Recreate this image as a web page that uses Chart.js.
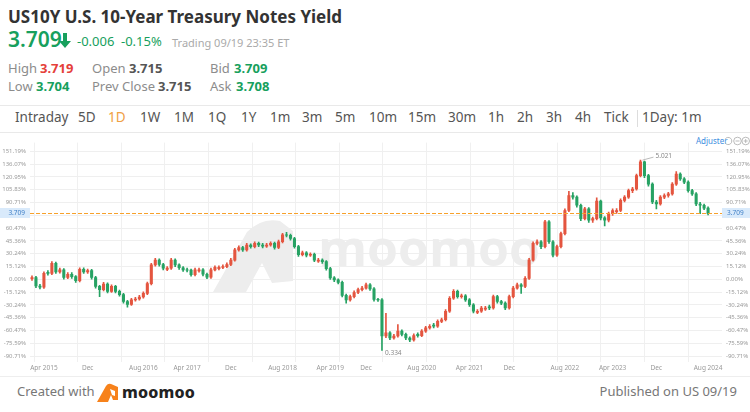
<!DOCTYPE html>
<html>
<head>
<meta charset="utf-8">
<script src="https://cdn.jsdelivr.net/npm/chart.js@4.4.1/dist/chart.umd.min.js"></script>
<style>
  body { margin: 0; width: 750px; height: 412px; background: #fff; position: relative; overflow: hidden; font-family: "Noto Sans", sans-serif; }
  .a { position: absolute; white-space: nowrap; line-height: 1; }
  .lbl { color: #8c8c8c; font-size: 13px; }
  .val { font-weight: 700; font-size: 13px; }
  .tab { color: #555; font-size: 13.5px; }
  .hr { position: absolute; left: 0; width: 750px; height: 1px; background: #e9e9e9; }
  #chartBox { position: absolute; left: 0; top: 135px; }
</style>
</head>
<body>
<div class="a" style="left:8px;top:8px;font-size:17px;font-weight:700;color:#333;">US10Y U.S. 10-Year Treasury Notes Yield</div>
<div class="a" style="left:8px;top:29px;font-size:21px;font-weight:600;color:#17a05d;">3.709</div>
<svg class="a" style="left:59px;top:33px;" width="12" height="15" viewBox="0 0 12 15"><path d="M4 0 H8 V8 H12 L6 15 L0 8 H4 Z" fill="#17a05d"/></svg>
<div class="a" style="left:77px;top:35px;font-size:13px;color:#17a05d;">-0.006</div>
<div class="a" style="left:121px;top:35px;font-size:13px;color:#17a05d;">-0.15%</div>
<div class="a" style="left:172px;top:37px;font-size:11px;color:#aaa;">Trading 09/19 23:35 ET</div>

<div class="a lbl" style="left:8px;top:62px;">High</div>
<div class="a val" style="left:40px;top:62px;color:#e5403a;">3.719</div>
<div class="a lbl" style="left:92px;top:62px;">Open</div>
<div class="a val" style="left:129px;top:62px;color:#555;">3.715</div>
<div class="a lbl" style="left:210px;top:62px;">Bid</div>
<div class="a val" style="left:234px;top:62px;color:#17a05d;">3.709</div>
<div class="a lbl" style="left:8px;top:80px;">Low</div>
<div class="a val" style="left:36px;top:80px;color:#17a05d;">3.704</div>
<div class="a lbl" style="left:92px;top:80px;">Prev Close</div>
<div class="a val" style="left:158px;top:80px;color:#555;">3.715</div>
<div class="a lbl" style="left:210px;top:80px;">Ask</div>
<div class="a val" style="left:236px;top:80px;color:#17a05d;">3.708</div>

<div class="hr" style="top:105px;"></div>
<div id="tabs"></div>
<div class="a" style="left:637px;top:110px;width:1px;height:17px;background:#ddd;"></div>
<div class="hr" style="top:132px;"></div>

<div class="a" style="left:696px;top:137px;font-size:8px;color:#3d8de0;">Adjuster</div>
<svg class="a" style="left:723px;top:136px;" width="27" height="10" viewBox="0 0 27 10">
  <path d="M2.2 3 A3.6 3.6 0 1 1 2.2 7" fill="none" stroke="#aaa" stroke-width="0.8"/>
  <circle cx="14.5" cy="5" r="3.8" fill="none" stroke="#aaa" stroke-width="0.8"/>
  <line x1="12.5" y1="5" x2="16.5" y2="5" stroke="#aaa" stroke-width="0.8"/>
  <circle cx="22.7" cy="5" r="3.8" fill="none" stroke="#aaa" stroke-width="0.8"/>
  <line x1="20.7" y1="5" x2="24.7" y2="5" stroke="#aaa" stroke-width="0.8"/>
  <line x1="22.7" y1="3" x2="22.7" y2="7" stroke="#aaa" stroke-width="0.8"/>
</svg>

<div id="chartBox"><canvas id="kline" width="750" height="240"></canvas></div>

<div class="hr" style="top:376px;background:#eee;"></div>
<div class="a" style="left:17px;top:385px;font-size:13px;color:#777;">Created with</div>
<svg class="a" style="left:97px;top:383px;" width="22" height="19" viewBox="0 0 22 19">
  <path d="M0 19 L9 3 Q11 0 14 1 L21 4 L21 17 L16 17 L14 12 L11 19 Z" fill="#f7821b"/>
  <path d="M13 6 L18 8 L18 13 L15 12 Z" fill="#fff"/>
</svg>
<div class="a" style="left:122px;top:384px;font-size:16px;font-weight:800;color:#222;letter-spacing:0.2px;">moomoo</div>
<div class="a" style="right:13px;top:385px;font-size:13px;color:#777;">Published on US 09/19</div>

<script>
// tab row
const tabNames = ["Intraday", "5D", "1D", "1W", "1M", "1Q", "1Y", "1m", "3m", "5m", "10m", "15m", "30m", "1h", "2h", "3h", "4h", "Tick", "1Day: 1m"];
const tabLeft = [15, 78, 108, 140, 174, 208, 241, 270, 302, 335, 369, 408, 448, 488, 517, 546, 575, 604, 642];
const tabBox = document.getElementById("tabs");
tabNames.forEach((t, i) => {
  const d = document.createElement("div");
  d.className = "a tab";
  d.style.left = tabLeft[i] + "px";
  d.style.top = "111px";
  if (t === "1D") d.style.color = "#f0a044";
  d.textContent = t;
  tabBox.appendChild(d);
});

// ---- data (yield, %) ----
const baseYield = 2.086; // yield that maps to 0.00%
const lastPrice = 3.709;
const opens = [
  2.10,2.13,1.92,1.89,2.26,2.23,2.48,2.27,2.32,2.13,
  2.21,2.15,2.05,2.33,2.27,2.30,2.13,1.91,1.83,1.97,
  1.79,1.91,1.79,1.71,1.54,1.47,1.58,1.60,1.65,1.74,
  1.98,2.44,2.56,2.45,2.33,2.36,2.56,2.44,2.37,2.32,
  2.31,2.20,2.29,2.32,2.21,2.14,2.32,2.35,2.38,2.40,
  2.45,2.56,2.81,2.87,2.81,2.93,2.89,2.97,2.93,2.90,
  2.93,2.97,2.87,3.01,3.18,3.17,3.09,2.89,2.69,2.74,
  2.68,2.70,2.53,2.56,2.52,2.35,2.12,2.07,2.01,1.69,
  1.58,1.66,1.76,1.83,1.87,1.95,1.85,1.59,1.58,0.69,
  0.77,0.64,0.69,0.81,0.73,0.64,0.59,0.73,0.70,0.81,
  0.89,0.96,0.93,1.05,1.09,1.30,1.62,1.79,1.66,1.68,
  1.58,1.46,1.27,1.30,1.35,1.41,1.38,1.66,1.54,1.50,
  1.38,1.66,1.87,1.95,1.91,2.11,2.56,2.97,3.01,2.89,
  3.50,3.01,2.68,2.89,3.21,3.78,4.15,4.11,3.91,3.58,
  3.82,3.54,3.58,4.01,3.60,3.54,3.70,3.75,3.78,4.03,
  4.11,4.27,4.31,4.64,4.98,4.64,4.43,3.99,3.94,4.11,
  4.15,4.19,4.43,4.68,4.56,4.48,4.27,4.19,3.94,3.91,
  3.84
];
const closes = [
  2.13,1.92,1.89,2.23,2.23,2.48,2.27,2.32,2.13,2.21,
  2.15,2.05,2.33,2.27,2.30,2.13,1.91,1.83,1.97,1.79,
  1.91,1.79,1.71,1.54,1.47,1.58,1.60,1.65,1.74,1.98,
  2.44,2.56,2.45,2.36,2.36,2.56,2.44,2.37,2.32,2.31,
  2.20,2.32,2.32,2.21,2.14,2.32,2.38,2.38,2.40,2.45,
  2.56,2.81,2.87,2.81,2.93,2.89,2.97,2.93,2.90,2.93,
  2.97,2.87,3.01,3.18,3.17,3.09,2.89,2.69,2.74,2.68,
  2.70,2.56,2.56,2.52,2.35,2.12,2.07,2.01,1.69,1.58,
  1.66,1.76,1.83,1.87,1.95,1.85,1.59,1.58,0.69,0.77,
  0.64,0.69,0.81,0.73,0.64,0.59,0.70,0.70,0.81,0.89,
  0.93,0.93,1.05,1.09,1.30,1.62,1.79,1.66,1.68,1.58,
  1.46,1.30,1.30,1.38,1.38,1.38,1.66,1.54,1.50,1.38,
  1.66,1.87,1.95,1.91,2.11,2.56,2.97,3.01,2.89,3.50,
  3.01,2.68,2.89,3.21,3.78,4.15,4.11,3.91,3.58,3.82,
  3.54,3.58,4.01,3.60,3.54,3.70,3.78,3.78,4.03,4.11,
  4.27,4.31,4.64,4.98,4.64,4.43,3.99,3.94,4.11,4.15,
  4.19,4.43,4.68,4.56,4.48,4.27,4.19,3.94,3.91,3.84,
  3.709
];
const highs = [
  2.17,2.16,1.96,2.27,2.30,2.52,2.51,2.36,2.35,2.25,
  2.25,2.18,2.37,2.37,2.34,2.33,2.16,1.94,2.01,2.00,
  1.95,1.94,1.82,1.74,1.57,1.62,1.64,1.69,1.78,2.02,
  2.48,2.60,2.59,2.48,2.40,2.60,2.59,2.47,2.40,2.36,
  2.34,2.36,2.36,2.35,2.24,2.36,2.42,2.42,2.44,2.49,
  2.60,2.85,2.91,2.90,2.97,2.96,3.01,3.00,2.97,2.97,
  3.01,3.00,3.05,3.22,3.24,3.20,3.12,2.92,2.78,2.77,
  2.74,2.73,2.60,2.59,2.55,2.38,2.15,2.10,2.04,1.72,
  1.70,1.80,1.87,1.91,1.99,1.98,1.88,1.62,1.61,1.25,
  0.80,0.73,0.97,0.84,0.76,0.67,0.74,0.77,0.85,0.93,
  0.97,1.00,1.09,1.13,1.34,1.66,1.83,1.82,1.72,1.71,
  1.61,1.49,1.34,1.42,1.42,1.45,1.70,1.69,1.57,1.53,
  1.70,1.91,1.99,1.98,2.15,2.60,3.01,3.06,3.04,3.54,
  3.53,3.04,2.93,3.25,3.82,4.25,4.22,4.14,3.94,3.86,
  3.85,3.62,4.09,4.04,3.63,3.74,3.82,3.83,4.07,4.15,
  4.31,4.35,4.68,5.021,5.00,4.67,4.46,4.03,4.15,4.19,
  4.23,4.47,4.74,4.71,4.59,4.51,4.30,4.22,3.98,3.94,
  3.87
];
const lows = [
  2.06,1.88,1.85,1.86,2.19,2.20,2.23,2.24,2.09,2.10,
  2.11,2.01,2.02,2.23,2.23,2.09,1.87,1.66,1.80,1.75,
  1.76,1.75,1.67,1.50,1.40,1.44,1.55,1.57,1.62,1.71,
  1.95,2.41,2.41,2.32,2.30,2.33,2.40,2.33,2.28,2.27,
  2.16,2.17,2.26,2.17,2.10,2.11,2.29,2.32,2.35,2.37,
  2.42,2.53,2.78,2.77,2.78,2.85,2.86,2.89,2.86,2.87,
  2.90,2.83,2.84,2.98,3.13,3.05,2.85,2.65,2.66,2.64,
  2.65,2.52,2.50,2.48,2.31,2.08,2.03,1.97,1.65,1.50,
  1.55,1.63,1.73,1.80,1.84,1.81,1.55,1.54,0.334,0.65,
  0.60,0.61,0.66,0.69,0.60,0.55,0.56,0.66,0.67,0.78,
  0.86,0.89,0.90,1.02,1.06,1.27,1.59,1.62,1.62,1.54,
  1.42,1.26,1.24,1.27,1.32,1.34,1.35,1.50,1.46,1.34,
  1.35,1.63,1.84,1.74,1.88,2.08,2.53,2.93,2.84,2.86,
  2.97,2.64,2.65,2.86,3.18,3.75,4.06,3.86,3.53,3.55,
  3.49,3.49,3.55,3.55,3.40,3.50,3.66,3.71,3.75,3.99,
  4.08,4.22,4.28,4.61,4.59,4.38,3.95,3.82,3.91,4.07,
  4.11,4.16,4.40,4.52,4.44,4.23,4.15,3.90,3.70,3.80,
  3.67
];
const xTickLabels = ["Apr 2015", "Dec", "Aug 2016", "Apr 2017", "Dec", "Aug 2018", "Apr 2019", "Dec", "Aug 2020", "Apr 2021", "Dec", "Aug 2022", "Apr 2023", "Dec", "Aug 2024"];
const xTickIndex = [3, 14, 28, 39, 50, 63, 75, 84, 98, 110, 120, 134, 146, 157, 170];
const yTickPcts = [-90.71, -75.59, -60.47, -45.36, -30.24, -15.12, 0, 15.12, 30.24, 45.36, 60.47, 75.59, 90.71, 105.83, 120.95, 136.07, 151.19];

const UP = "#e4553f", DOWN = "#26a263";
const slots = closes.length + 3; // a little empty room at the right edge
const labels = new Array(slots).fill("");
xTickIndex.forEach((k, i) => { labels[k] = xTickLabels[i]; });
const candleColors = closes.map((c, i) => (c >= opens[i] ? UP : DOWN));

const yRange = { min: 0.049, max: 5.453 };

function pctText(i) {
  return yTickPcts[i].toFixed(2) + "%";
}

const watermark = {
  id: "watermark",
  beforeDatasetsDraw(chart) {
    const ctx = chart.ctx;
    ctx.save();
    ctx.fillStyle = "#ededed";
    ctx.beginPath();
    ctx.moveTo(213, 157);
    ctx.lineTo(247, 97);
    ctx.quadraticCurveTo(262, 82, 280, 86);
    ctx.lineTo(293, 96);
    ctx.lineTo(293, 146);
    ctx.lineTo(272, 148);
    ctx.lineTo(262, 128);
    ctx.lineTo(246, 157);
    ctx.closePath();
    ctx.fill();
    ctx.font = "bold 50px 'Open Sans'";
    ctx.textBaseline = "alphabetic";
    ctx.fillText("moomoo", 318, 131);
    ctx.restore();
  },
};

const overlay = {
  id: "overlay",
  afterDatasetsDraw(chart) {
    const ctx = chart.ctx, a = chart.chartArea;
    const y = chart.scales.y, x = chart.scales.x;
    ctx.save();
    // max / min marks
    ctx.font = "6.5px 'Noto Sans'";
    ctx.fillStyle = "#888";
    ctx.strokeStyle = "#bbb";
    const iMax = highs.indexOf(Math.max(...highs));
    const iMin = lows.indexOf(Math.min(...lows));
    const hx = x.getPixelForValue(iMax), hy = y.getPixelForValue(highs[iMax]);
    ctx.beginPath();
    ctx.moveTo(hx + 2, hy);
    ctx.lineTo(hx + 13, hy - 3);
    ctx.stroke();
    ctx.textBaseline = "middle";
    ctx.fillText(highs[iMax].toFixed(3), hx + 15, hy - 4);
    const lx = x.getPixelForValue(iMin), ly = y.getPixelForValue(lows[iMin]);
    ctx.fillText(lows[iMin].toFixed(3), lx + 3, ly + 3);

    // category labels under the plot
    ctx.fillStyle = "#999";
    ctx.textAlign = "center";
    xTickIndex.forEach((k, i) => {
      ctx.fillText(xTickLabels[i], x.getPixelForValue(k), a.bottom + 6);
    });
    ctx.restore();
  },
  afterDraw(chart) {
    const ctx = chart.ctx, a = chart.chartArea;
    const py = Math.round(chart.scales.y.getPixelForValue(lastPrice)) + 0.5;
    ctx.save();
    // last price line
    ctx.strokeStyle = "#f7a12b";
    ctx.lineWidth = 1;
    ctx.setLineDash([4, 2]);
    ctx.beginPath();
    ctx.moveTo(a.left, py);
    ctx.lineTo(a.right, py);
    ctx.stroke();
    ctx.setLineDash([]);
    // price boxes on both axes
    ctx.fillStyle = "#d9eafb";
    ctx.fillRect(0, py - 5.5, a.left, 10);
    ctx.fillRect(a.right, py - 5.5, 750 - a.right, 10);
    ctx.fillStyle = "#3f7fc6";
    ctx.font = "6.5px 'Noto Sans'";
    ctx.textBaseline = "middle";
    ctx.textAlign = "right";
    ctx.fillText(lastPrice.toFixed(3), a.left - 5, py);
    ctx.textAlign = "left";
    ctx.fillText(lastPrice.toFixed(3), a.right + 5, py);
    ctx.restore();
  },
};

const yTicksBuild = (s) => {
  s.ticks = yTickPcts.map((p) => ({ value: baseYield * (1 + p / 100) }));
};

new Chart(document.getElementById("kline"), {
  type: "bar",
  data: {
    labels,
    datasets: [
      {
        label: "body",
        data: opens.map((o, i) => [o, closes[i]]),
        backgroundColor: candleColors,
        barThickness: 2.4,
        grouped: false,
        order: 1,
      },
      {
        label: "wick",
        data: lows.map((l, i) => [l, highs[i]]),
        backgroundColor: candleColors,
        barThickness: 1,
        grouped: false,
        order: 2,
      },
    ],
  },
  options: {
    responsive: false,
    animation: false,
    layout: { padding: { top: 3 } },
    plugins: { legend: { display: false }, tooltip: { enabled: false } },
    scales: {
      x: {
        ticks: { display: false },
        grid: { display: false, drawTicks: false },
        border: { display: false },
        afterFit: (s) => { s.height = 13; },
      },
      x2: {
        type: "linear",
        position: "bottom",
        min: -0.064,
        max: 14.75,
        afterBuildTicks: (s) => { s.ticks = Array.from({ length: 15 }, (_, i) => ({ value: i })); },
        ticks: { display: false },
        grid: { color: "#f0f0f0", drawTicks: false },
        border: { display: false },
        afterFit: (s) => { s.height = 0; },
      },
      y: {
        position: "left",
        min: yRange.min,
        max: yRange.max,
        afterBuildTicks: yTicksBuild,
        ticks: { callback: (v, i) => pctText(i), font: { size: 6, family: "Noto Sans" }, color: "#9a9a9a", padding: 4 },
        grid: { color: "#efefef", drawTicks: false },
        border: { display: false },
        afterFit: (s) => { s.width = 30; },
      },
      y2: {
        position: "right",
        min: yRange.min,
        max: yRange.max,
        afterBuildTicks: yTicksBuild,
        ticks: { callback: (v, i) => pctText(i), font: { size: 6, family: "Noto Sans" }, color: "#9a9a9a", padding: 4 },
        grid: { display: false, drawTicks: false },
        border: { display: false },
        afterFit: (s) => { s.width = 28; },
      },
    },
  },
  plugins: [watermark, overlay],
});
</script>
</body>
</html>
